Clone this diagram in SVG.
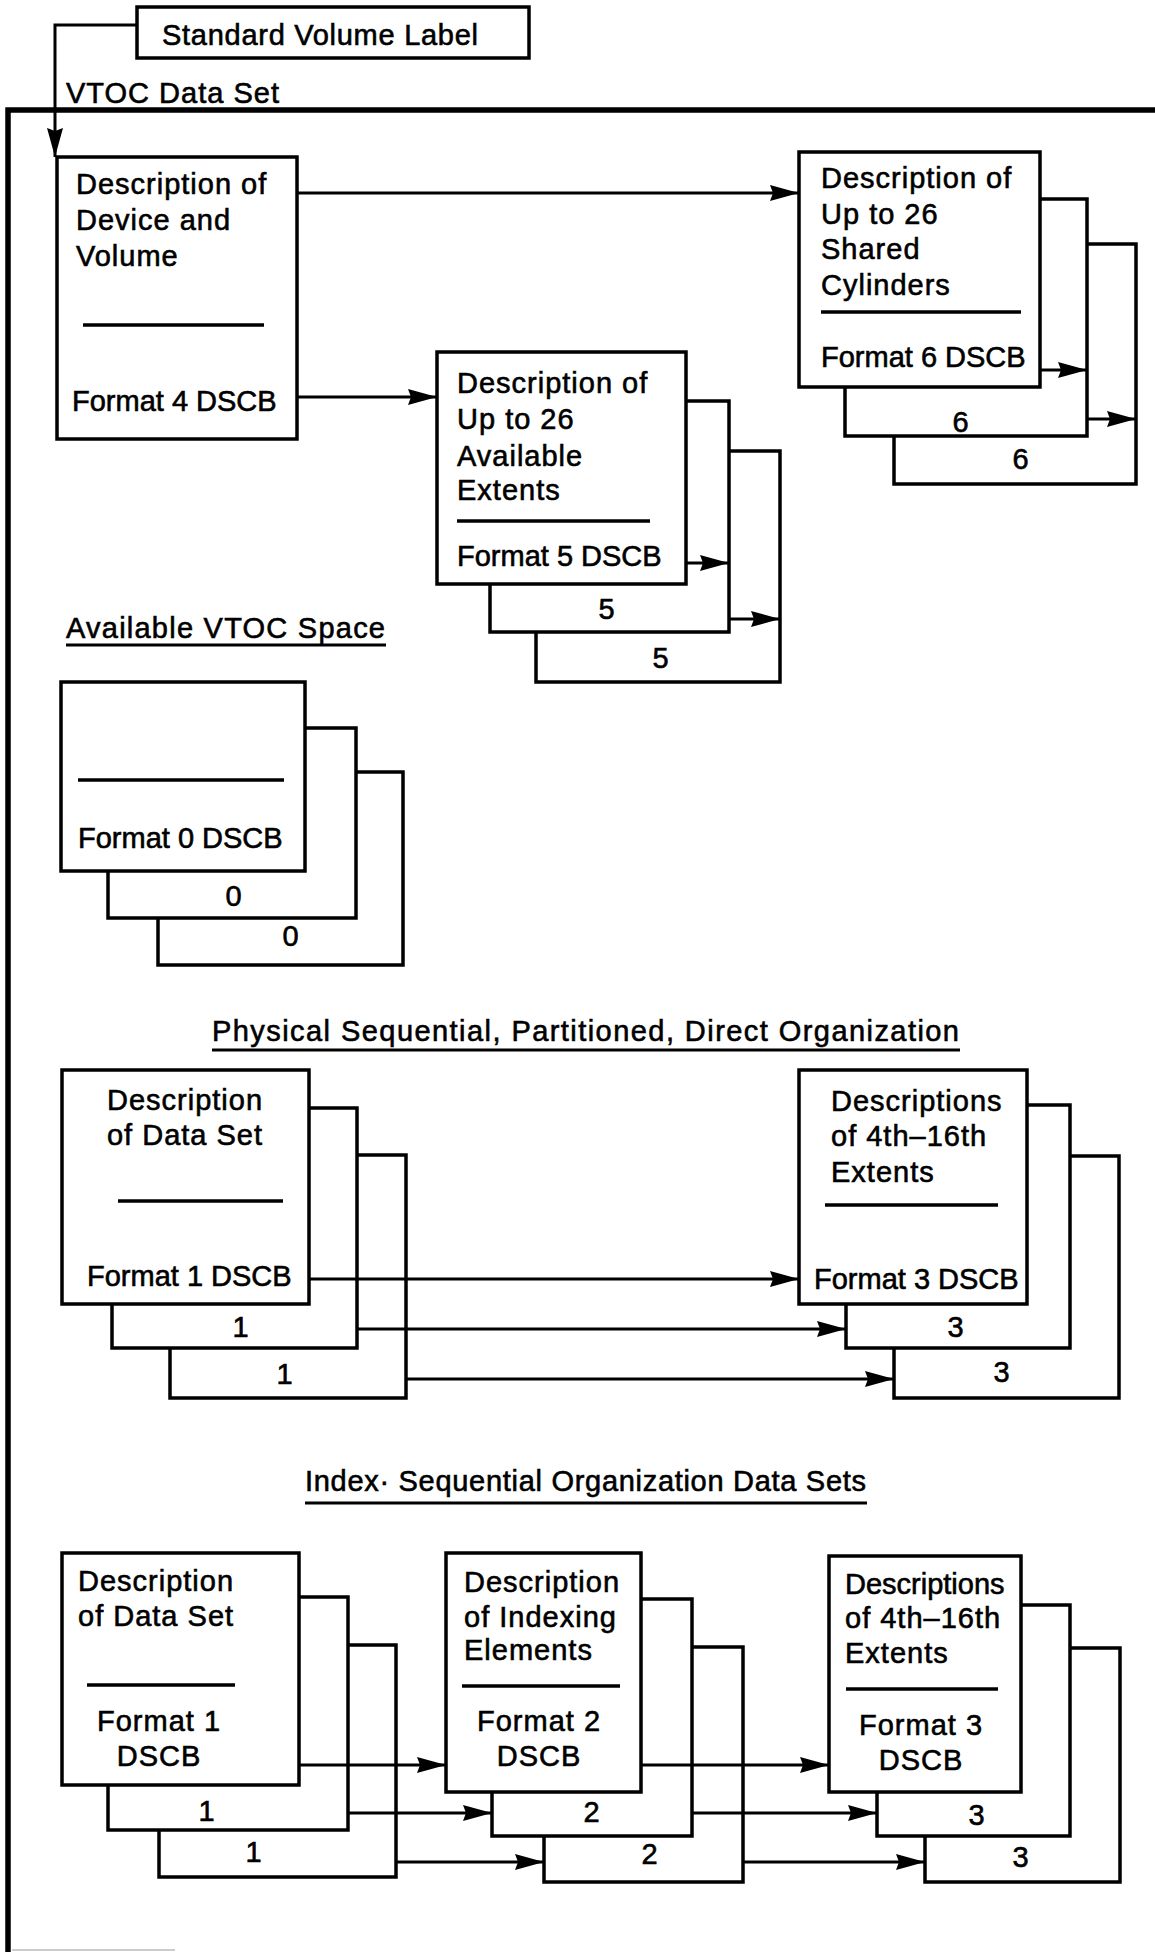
<svg xmlns="http://www.w3.org/2000/svg" width="1155" height="1952" viewBox="0 0 1155 1952">
  <defs>
    <marker id="arrow" markerUnits="userSpaceOnUse" markerWidth="32" markerHeight="18" refX="29" refY="8" orient="auto">
      <path d="M0,0 L29,8 L0,16 L3,8 Z" fill="#000"/>
    </marker>
    <style>
      text { font-family: "Liberation Sans", Arial, sans-serif; font-size: 29px; fill: #000; stroke: #000; stroke-width: 0.6; letter-spacing: 1px; }
      .c { text-anchor: middle; }
      .f { letter-spacing: 0; }
      .box { fill: #fff; stroke: #000; stroke-width: 3.5; }
      .rule { stroke: #000; stroke-width: 3.5; fill: none; }
      .frame { stroke: #000; stroke-width: 5.5; fill: none; }
      .conn { stroke: #000; stroke-width: 3; fill: none; marker-end: url(#arrow); }
      .head { stroke: #000; stroke-width: 3.2; fill: none; }
    </style>
  </defs>
  <rect width="1155" height="1952" fill="#fff"/>

  <!-- VTOC data set outline -->
  <g id="vtoc-frame">
    <path class="frame" d="M8,1952 V110 H1155"/>
    <line x1="12" y1="1950" x2="175" y2="1950" stroke="#ccc" stroke-width="2"/>
    <text x="66" y="103">VTOC Data Set</text>
  </g>

  <!-- Standard volume label -->
  <g id="volume-label">
    <rect class="box" x="137" y="7" width="392" height="51"/>
    <text x="162" y="45" textLength="317" lengthAdjust="spacing">Standard Volume Label</text>
  </g>

  <!-- Format 4 DSCB -->
  <g id="format4">
    <rect class="box" x="57" y="157" width="240" height="282"/>
    <text x="76" y="194">Description of</text>
    <text x="76" y="230">Device and</text>
    <text x="76" y="266">Volume</text>
    <line class="rule" x1="83" y1="325" x2="264" y2="325"/>
    <text class="f" x="72" y="411">Format 4 DSCB</text>
  </g>

  <!-- Format 6 DSCB stack -->
  <g id="format6">
    <rect class="box" x="894" y="244" width="242" height="240"/>
    <rect class="box" x="845" y="199" width="242" height="237"/>
    <rect class="box" x="799" y="152" width="241" height="235"/>
    <text x="821" y="188">Description of</text>
    <text x="821" y="224">Up to 26</text>
    <text x="821" y="259">Shared</text>
    <text x="821" y="295">Cylinders</text>
    <line class="rule" x1="821" y1="312" x2="1021" y2="312"/>
    <text class="f" x="821" y="367">Format 6 DSCB</text>
    <text class="c" x="961" y="432">6</text>
    <text class="c" x="1021" y="469">6</text>
  </g>

  <!-- Format 5 DSCB stack -->
  <g id="format5">
    <rect class="box" x="536" y="451" width="244" height="231"/>
    <rect class="box" x="490" y="401" width="239" height="231"/>
    <rect class="box" x="437" y="352" width="249" height="232"/>
    <text x="457" y="393">Description of</text>
    <text x="457" y="429">Up to 26</text>
    <text x="457" y="466">Available</text>
    <text x="457" y="500">Extents</text>
    <line class="rule" x1="457" y1="521" x2="650" y2="521"/>
    <text class="f" x="457" y="566">Format 5 DSCB</text>
    <text class="c" x="607" y="619">5</text>
    <text class="c" x="661" y="668">5</text>
  </g>

  <!-- Available VTOC space: Format 0 DSCB stack -->
  <g id="available-space">
    <text x="66" y="638" textLength="320" lengthAdjust="spacing">Available VTOC Space</text>
    <line class="head" x1="66" y1="645" x2="386" y2="645"/>
  </g>
  <g id="format0">
    <rect class="box" x="158" y="772" width="245" height="193"/>
    <rect class="box" x="108" y="728" width="248" height="190"/>
    <rect class="box" x="61" y="682" width="244" height="189"/>
    <line class="rule" x1="78" y1="780" x2="284" y2="780"/>
    <text class="f" x="78" y="848">Format 0 DSCB</text>
    <text class="c" x="234" y="906">0</text>
    <text class="c" x="291" y="946">0</text>
  </g>

  <!-- Physical sequential, partitioned, direct organization -->
  <g id="ps-heading">
    <text x="212" y="1041" textLength="748" lengthAdjust="spacing">Physical Sequential, Partitioned, Direct Organization</text>
    <line class="head" x1="212" y1="1050" x2="960" y2="1050"/>
  </g>
  <g id="ps-format1">
    <rect class="box" x="170" y="1155" width="236" height="243"/>
    <rect class="box" x="112" y="1108" width="245" height="240"/>
    <rect class="box" x="62" y="1070" width="247" height="234"/>
    <text class="c" x="185" y="1110">Description</text>
    <text class="c" x="185" y="1145">of Data Set</text>
    <line class="rule" x1="118" y1="1201" x2="283" y2="1201"/>
    <text class="f" x="87" y="1286">Format 1 DSCB</text>
    <text class="c" x="241" y="1337">1</text>
    <text class="c" x="285" y="1384">1</text>
  </g>
  <g id="ps-format3">
    <rect class="box" x="894" y="1156" width="225" height="242"/>
    <rect class="box" x="846" y="1105" width="224" height="243"/>
    <rect class="box" x="799" y="1070" width="228" height="234"/>
    <text x="831" y="1111">Descriptions</text>
    <text x="831" y="1146">of 4th–16th</text>
    <text x="831" y="1182">Extents</text>
    <line class="rule" x1="825" y1="1205" x2="998" y2="1205"/>
    <text class="f" x="814" y="1289">Format 3 DSCB</text>
    <text class="c" x="956" y="1337">3</text>
    <text class="c" x="1002" y="1382">3</text>
  </g>

  <!-- Index sequential organization data sets -->
  <g id="is-heading">
    <text x="305" y="1491" textLength="562" lengthAdjust="spacing">Index· Sequential Organization Data Sets</text>
    <line class="head" x1="305" y1="1503" x2="867" y2="1503"/>
  </g>
  <g id="is-format1">
    <rect class="box" x="159" y="1645" width="237" height="232"/>
    <rect class="box" x="108" y="1597" width="240" height="233"/>
    <rect class="box" x="62" y="1553" width="237" height="232"/>
    <text x="78" y="1591">Description</text>
    <text x="78" y="1626">of Data Set</text>
    <line class="rule" x1="87" y1="1685" x2="235" y2="1685"/>
    <text class="c" x="159" y="1731">Format 1</text>
    <text class="c" x="159" y="1766">DSCB</text>
    <text class="c" x="207" y="1821">1</text>
    <text class="c" x="254" y="1862">1</text>
  </g>
  <g id="is-format2">
    <rect class="box" x="544" y="1647" width="199" height="235"/>
    <rect class="box" x="492" y="1599" width="200" height="237"/>
    <rect class="box" x="446" y="1553" width="195" height="239"/>
    <text x="464" y="1592">Description</text>
    <text x="464" y="1627">of Indexing</text>
    <text x="464" y="1660">Elements</text>
    <line class="rule" x1="462" y1="1686" x2="620" y2="1686"/>
    <text class="c" x="539" y="1731">Format 2</text>
    <text class="c" x="539" y="1766">DSCB</text>
    <text class="c" x="592" y="1822">2</text>
    <text class="c" x="650" y="1864">2</text>
  </g>
  <g id="is-format3">
    <rect class="box" x="925" y="1648" width="195" height="234"/>
    <rect class="box" x="877" y="1605" width="193" height="231"/>
    <rect class="box" x="829" y="1556" width="192" height="236"/>
    <text class="f" x="845" y="1594">Descriptions</text>
    <text x="845" y="1628">of 4th–16th</text>
    <text x="845" y="1663">Extents</text>
    <line class="rule" x1="846" y1="1689" x2="998" y2="1689"/>
    <text class="c" x="921" y="1735">Format 3</text>
    <text class="c" x="921" y="1770">DSCB</text>
    <text class="c" x="977" y="1825">3</text>
    <text class="c" x="1021" y="1867">3</text>
  </g>

  <!-- Pointers between control blocks -->
  <g id="connectors">
    <path class="conn" d="M137,25 H55 V157"/>
    <path class="conn" d="M297,193 H799"/>
    <path class="conn" d="M297,397 H437"/>
    <path class="conn" d="M686,563 H729"/>
    <path class="conn" d="M729,619 H780"/>
    <path class="conn" d="M1040,370 H1087"/>
    <path class="conn" d="M1087,419 H1136"/>
    <path class="conn" d="M309,1279 H799"/>
    <path class="conn" d="M357,1329 H846"/>
    <path class="conn" d="M406,1379 H894"/>
    <path class="conn" d="M299,1765 H446"/>
    <path class="conn" d="M348,1813 H492"/>
    <path class="conn" d="M396,1862 H544"/>
    <path class="conn" d="M641,1765 H829"/>
    <path class="conn" d="M692,1813 H877"/>
    <path class="conn" d="M743,1862 H925"/>
  </g>
</svg>
